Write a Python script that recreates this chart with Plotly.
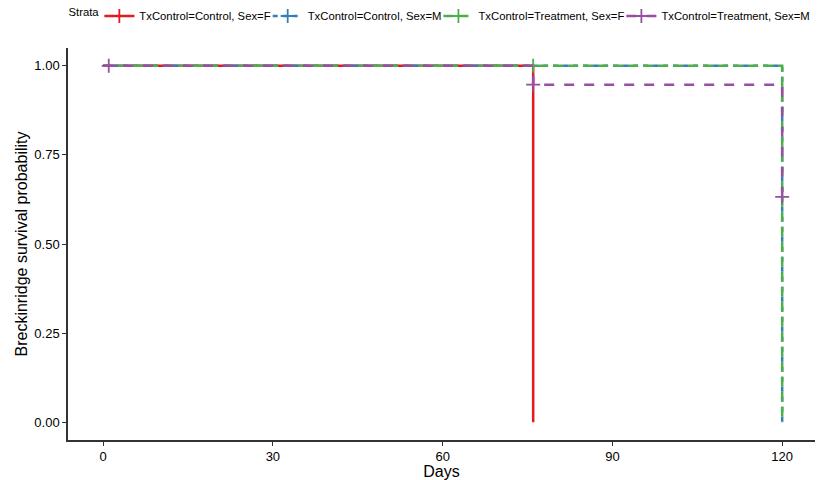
import plotly.graph_objects as go

# Kaplan-Meier step data (time, survival) per stratum
strata = ["TxControl=Control, Sex=F", "TxControl=Control, Sex=M",
          "TxControl=Treatment, Sex=F", "TxControl=Treatment, Sex=M"]
times = [[0, 76], [0, 120], [0, 120], [0, 76, 120]]
surv = [[1.0, 0.0], [1.0, 0.0], [1.0, 0.0], [1.0, 0.947, 0.632]]
cens_t = [[], [], [76], [1, 76, 120]]
cens_s = [[], [], [1.0], [1.0, 0.947, 0.632]]
colors = ["#E41A1C", "#377EB8", "#4DAF4A", "#984EA3"]
dashes = ["solid", "5px,5px", "10px,5px", "10px,10px"]

x_ticks = [0, 30, 60, 90, 120]
y_ticks = [0.0, 0.25, 0.5, 0.75, 1.0]
y_ticklabels = ["0.00", "0.25", "0.50", "0.75", "1.00"]

fig = go.Figure()
for i in range(4):
    fig.add_trace(go.Scatter(x=times[i], y=surv[i], mode="lines", line_shape="hv",
                             line=dict(color=colors[i], width=2.5, dash=dashes[i]),
                             showlegend=False))
    if cens_t[i]:
        fig.add_trace(go.Scatter(x=cens_t[i], y=cens_s[i], mode="markers",
                                 marker=dict(symbol="cross-thin", size=10,
                                             line=dict(color=colors[i], width=1.8)),
                                 showlegend=False))
for i in range(4):
    fig.add_trace(go.Scatter(x=[None], y=[None], mode="lines+markers", name=strata[i],
                             line=dict(color=colors[i], width=2.5, dash=dashes[i]),
                             marker=dict(symbol="cross-thin", size=10,
                                         line=dict(color=colors[i], width=1.8))))

fig.update_layout(
    width=817, height=480,
    margin=dict(l=68, r=2, t=48, b=40, autoexpand=False),
    plot_bgcolor="white", paper_bgcolor="white",
    font=dict(family="Liberation Sans, Arial, sans-serif", color="black"),
    legend=dict(orientation="h", x=-0.002, y=1.0816, xref="paper", yref="paper",
                yanchor="middle", xanchor="left",
                title=dict(text="Strata", font=dict(size=11.3), side="left"),
                font=dict(size=11.3), itemwidth=30, indentation=-8,
                tracegroupgap=0),
    xaxis=dict(range=[-6.2, 125.8], tickvals=x_ticks, ticks="outside", ticklen=4,
               tickcolor="#333333", showline=True, linecolor="#333333", linewidth=1.5,
               showgrid=False, zeroline=False, tickfont=dict(size=13, color="black"),
               title=dict(text="Days", font=dict(size=16), standoff=0)),
    yaxis=dict(range=[-0.05, 1.05], tickvals=y_ticks, ticktext=y_ticklabels,
               ticks="outside", ticklen=4, tickcolor="#333333", showline=True,
               linecolor="#333333", linewidth=1.5, showgrid=False, zeroline=False,
               tickfont=dict(size=13, color="black"),
               title=dict(text="Breckinridge survival probability", font=dict(size=16), standoff=3)),
)
fig.write_html("out.html", config={"displayModeBar": False},
               post_script="document.body.style.margin='0';")
